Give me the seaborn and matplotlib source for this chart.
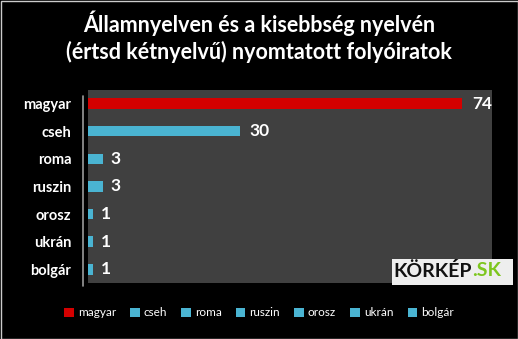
import matplotlib
matplotlib.use("Agg")
import matplotlib.pyplot as plt
import seaborn as sns
import pandas as pd
from matplotlib.patches import Rectangle

categories = ["magyar", "cseh", "roma", "ruszin", "orosz", "ukrán", "bolgár"]
values = [74, 30, 3, 3, 1, 1, 1]
colors = ["#d40000", "#4ab4d2", "#4ab4d2", "#4ab4d2", "#4ab4d2", "#4ab4d2", "#4ab4d2"]
title = "Államnyelven és a kisebbség nyelvén\n(értsd kétnyelvű) nyomtatott folyóiratok"

sns.set_theme(style="dark")
plt.rcParams['font.family'] = ['Lato', 'DejaVu Sans']

df = pd.DataFrame({"cat": categories, "val": values})

fig = plt.figure(figsize=(5.18, 3.39), dpi=100, facecolor="black")
ax = fig.add_axes([0.17, 0.165, 0.78, 0.57])
ax.set_facecolor("#404040")

sns.barplot(data=df, x="val", y="cat", hue="cat", palette=colors, width=0.38,
            dodge=False, legend=True, ax=ax, edgecolor="none", saturation=1)

ax.set_xlim(0, 80)
ax.set_xticks([])
ax.set_xlabel("")
ax.set_ylabel("")
for s in ax.spines.values():
    s.set_visible(False)
ax.tick_params(axis="y", length=0, pad=12, colors="white", labelsize=10.5)
for lab in ax.get_yticklabels():
    lab.set_fontweight("bold")
    lab.set_color("white")

for p, v in zip(ax.patches, values):
    y = p.get_y() + p.get_height() / 2
    ax.text(p.get_width() + (2.0 if v >= 10 else 1.5), y, str(v), color="white",
            fontsize=12.5, fontweight="bold", va="center", ha="left")

# left axis line
fig.add_artist(plt.Line2D([83/518, 83/518], [1 - 96/339, 1 - 286/339],
                          color="#9a9a9a", lw=1.2))

fig.text(0.5, 1 - 37/339, title, ha="center", va="center", color="white",
         fontsize=15.5, fontweight="bold", linespacing=1.3)

sns.move_legend(ax, "lower center", bbox_to_anchor=(0.5, 0.03), bbox_transform=fig.transFigure,
                ncol=7, frameon=False, title=None, fontsize=8.5, handlelength=0.8,
                handleheight=0.8, handletextpad=0.35, columnspacing=1.2)
for t in ax.get_legend().get_texts():
    t.set_color("white")

# logo
fig.add_artist(Rectangle((392/518, 1 - 285/339), 121/518, 26/339, transform=fig.transFigure,
                         facecolor="#eeeeee", edgecolor="none"))
fig.text(472/518, 1 - 271/339, "KÖRKÉP", color="#111111", fontsize=14, fontweight="bold",
         va="center", ha="right")
fig.text(472/518, 1 - 271/339, ".SK", color="#7dc61e", fontsize=14, fontweight="bold",
         va="center", ha="left")

# figure border
fig.add_artist(Rectangle((0.5/518, 0.5/339), 517/518, 338/339, transform=fig.transFigure,
                         facecolor="none", edgecolor="#cccccc", lw=1))

fig.savefig("out.png", dpi=100, facecolor="black")
